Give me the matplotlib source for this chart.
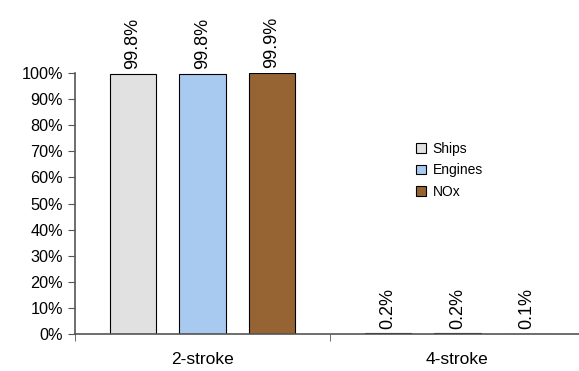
import numpy as np
import matplotlib.pyplot as plt
from matplotlib.ticker import PercentFormatter

plt.rcParams['font.family'] = ['Liberation Sans', 'DejaVu Sans']
plt.rcParams['font.size'] = 10

categories = ["2-stroke", "4-stroke"]
series = ["Ships", "Engines", "NOx"]
ships = [99.8, 0.2]
engines = [99.8, 0.2]
nox = [99.9, 0.1]
colors = ["#e1e1e1", "#a8caf0", "#966433"]

fig = plt.figure(figsize=(5.79, 3.71), dpi=100)
ax = fig.add_axes([75 / 579, 37 / 371, 510 / 579, 261 / 371])

x = np.arange(len(categories))
width = 0.183
step = 0.2725
for i, (name, vals, c) in enumerate(zip(series, [ships, engines, nox], colors)):
    pos = x + (i - 1) * step
    ax.bar(pos, vals, width, color=c, edgecolor="black", linewidth=0.8, label=name)
    for p, v in zip(pos, vals):
        ax.annotate(f"{v:.1f}%", (p, v), xytext=(0, 3.5), textcoords="offset points",
                    rotation=90, ha="center", va="bottom", fontsize=13,
                    annotation_clip=False)

ax.set_xlim(-0.5, 1.5)
ax.set_ylim(0, 100)
ax.set_yticks(np.arange(0, 101, 10))
ax.yaxis.set_major_formatter(PercentFormatter(decimals=0))

ax.set_xticks(x)
ax.set_xticklabels(categories, fontsize=12.5)
ax.set_xticks([-0.5, 0.5, 1.5], minor=True)
ax.tick_params(axis="x", which="major", length=0, pad=13)
ax.tick_params(axis="x", which="minor", length=5, color="#555555")
ax.tick_params(axis="y", length=5, color="#555555", labelsize=11.7)

for side in ["top", "right"]:
    ax.spines[side].set_visible(False)
for side in ["left", "bottom"]:
    ax.spines[side].set_color("#555555")
    ax.spines[side].set_linewidth(1.2)

ax.legend(loc="upper left", bbox_to_anchor=(0.645, 0.785), frameon=False,
          handlelength=0.7, handleheight=0.7, handletextpad=0.45,
          labelspacing=0.55, fontsize=10)

fig.savefig("out.png", dpi=100)
